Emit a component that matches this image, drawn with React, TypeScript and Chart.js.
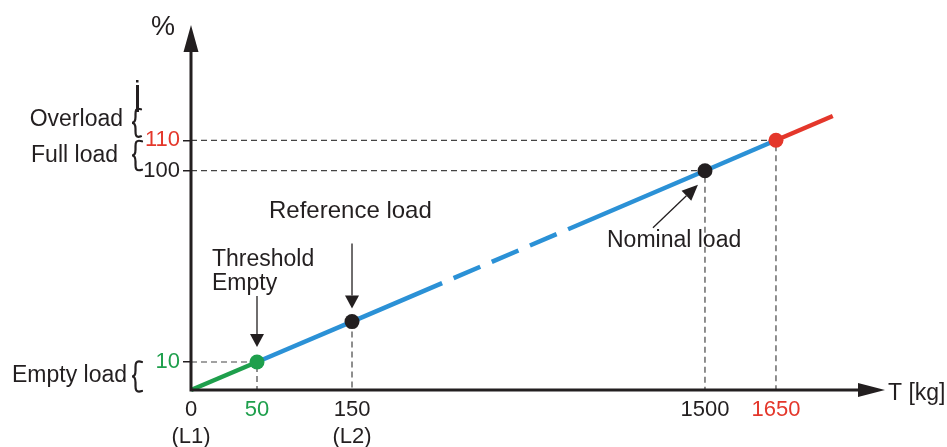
import { useEffect, useRef } from "react";
import { Chart, LinearScale, registerables } from "chart.js";

// load signal (%) against weight T [kg], schematic with a broken axis
const xTicks = [0, 50, 150, 1500, 1650];
const xSubLabels = ["(L1)", "", "(L2)", "", ""];
const yTicks = [10, 100, 110];

const emptyT = [0, 50];
const emptyPct = [0, 10];
const workT = [50, 150, 1500, 1650];
const workPct = [10, 29, 100, 110];
const overT = [1650, 1770];
const overPct = [110, 118];

const markerT = [50, 150, 1500, 1650];
const markerPct = [10, 29, 100, 110];

const GREEN = "#1e9f4c";
const BLUE = "#2b91d6";
const RED = "#e4372b";
const INK = "#231f20";
const GUIDE = "#444";
const FONT = '"Liberation Sans", Arial, sans-serif';

// where each value sits along the axis (0..1 of the plot area); the axis is not to scale
const X_BREAKS: [number, number][] = [[0, 0], [50, 0.0951], [150, 0.232], [1500, 0.7406], [1650, 0.8429]];
const Y_BREAKS: [number, number][] = [[0, 0], [10, 0.0767], [100, 0.6008], [110, 0.6841]];

function toDecimal(v: number, br: [number, number][]) {
  let i = 0;
  while (i < br.length - 2 && v > br[i + 1][0]) i++;
  const [v0, d0] = br[i];
  const [v1, d1] = br[i + 1];
  return d0 + ((v - v0) / (v1 - v0)) * (d1 - d0);
}

function fromDecimal(d: number, br: [number, number][]) {
  let i = 0;
  while (i < br.length - 2 && d > br[i + 1][1]) i++;
  const [v0, d0] = br[i];
  const [v1, d1] = br[i + 1];
  return v0 + ((d - d0) / (d1 - d0)) * (v1 - v0);
}

class BrokenScale extends LinearScale {
  static id = "broken";
  static defaults = LinearScale.defaults;
  getPixelForValue(value: number) {
    if (value === null || value === undefined) return NaN;
    return this.getPixelForDecimal(toDecimal(value, (this.options as any).breaks));
  }
  getValueForPixel(pixel: number) {
    return fromDecimal(this.getDecimalForPixel(pixel), (this.options as any).breaks);
  }
}

Chart.register(...registerables, BrokenScale);
Chart.defaults.font.family = FONT;

const tColor = (t: number) => (t === emptyT[emptyT.length - 1] ? GREEN : t === overT[0] ? RED : INK);
const pColor = (p: number) => (p === emptyPct[emptyPct.length - 1] ? GREEN : p === overPct[0] ? RED : INK);

const zip = (xs: number[], ys: number[]) => xs.map((x, i) => ({ x, y: ys[i] }));

function arrow(ctx: CanvasRenderingContext2D, x0: number, y0: number, x1: number, y1: number, len: number, w: number) {
  const a = Math.atan2(y1 - y0, x1 - x0);
  const bx = x1 - len * Math.cos(a);
  const by = y1 - len * Math.sin(a);
  ctx.lineWidth = 1.3;
  ctx.beginPath();
  ctx.moveTo(x0, y0);
  ctx.lineTo(bx, by);
  ctx.stroke();
  const nx = -Math.sin(a) * (w / 2);
  const ny = Math.cos(a) * (w / 2);
  ctx.beginPath();
  ctx.moveTo(x1, y1);
  ctx.lineTo(bx + nx, by + ny);
  ctx.lineTo(bx - nx, by - ny);
  ctx.closePath();
  ctx.fill();
}

function brace(ctx: CanvasRenderingContext2D, xTip: number, xEnd: number, top: number, bottom: number) {
  const mid = xTip + 3.5;
  const yc = (top + bottom) / 2;
  const r = Math.min(6, (bottom - top) / 4.5);
  ctx.lineWidth = 2.2;
  ctx.lineCap = "round";
  ctx.beginPath();
  ctx.moveTo(xEnd, top + 1);
  ctx.bezierCurveTo(mid, top - 1, mid, top + r * 0.5, mid, top + r);
  ctx.lineTo(mid, yc - r);
  ctx.quadraticCurveTo(mid, yc, xTip, yc);
  ctx.quadraticCurveTo(mid, yc, mid, yc + r);
  ctx.lineTo(mid, bottom - r);
  ctx.bezierCurveTo(mid, bottom - r * 0.5, mid, bottom + 1, xEnd, bottom - 1);
  ctx.stroke();
}

const annotate = {
  id: "annotate",
  afterDatasetsDraw(chart: any) {
    const { ctx, chartArea: a, scales } = chart;
    const px = (t: number) => scales.x.getPixelForValue(t);
    const py = (p: number) => scales.y.getPixelForValue(p);
    ctx.save();
    ctx.strokeStyle = INK;
    ctx.fillStyle = INK;

    // axes with arrow heads
    ctx.lineWidth = 3;
    ctx.beginPath();
    ctx.moveTo(a.left, a.bottom + 1.5);
    ctx.lineTo(a.left, a.top + 26);
    ctx.moveTo(a.left - 1.5, a.bottom);
    ctx.lineTo(a.right - 26, a.bottom);
    ctx.stroke();
    ctx.beginPath();
    ctx.moveTo(a.left, a.top);
    ctx.lineTo(a.left + 7.5, a.top + 27);
    ctx.lineTo(a.left - 7.5, a.top + 27);
    ctx.closePath();
    ctx.moveTo(a.right, a.bottom);
    ctx.lineTo(a.right - 27, a.bottom + 7);
    ctx.lineTo(a.right - 27, a.bottom - 7);
    ctx.closePath();
    ctx.fill();

    ctx.textBaseline = "alphabetic";
    ctx.textAlign = "left";
    ctx.font = `27px ${FONT}`;
    ctx.fillText("%", 151, 35);
    ctx.font = `23px ${FONT}`;
    ctx.fillText("T [kg]", a.right + 3, 400);

    // annotations
    ctx.font = `24px ${FONT}`;
    ctx.fillText("Reference load", 269, 218);
    ctx.font = `23px ${FONT}`;
    ctx.fillText("Threshold", 212, 266);
    ctx.fillText("Empty", 212, 290);
    ctx.fillText("Nominal load", 607, 247);

    const [t0, t1, t2] = markerT;
    const [p0, p1, p2] = markerPct;
    arrow(ctx, px(t0), py(p0) - 66, px(t0), py(p0) - 15, 13, 14);
    arrow(ctx, px(t1), py(p1) - 78, px(t1), py(p1) - 13, 13, 14);
    arrow(ctx, px(t2) - 52, py(p2) + 57, px(t2) - 7, py(p2) + 14, 16, 14);

    // zone labels with braces
    ctx.textAlign = "right";
    ctx.fillText("Overload", 123, 126);
    ctx.fillText("Full load", 118, 162);
    ctx.fillText("Empty load", 127, 382);
    const y110 = py(yTicks[2]);
    const y100 = py(yTicks[1]);
    const y10 = py(yTicks[0]);
    const y0 = py(0);
    brace(ctx, 132, 141, y110 - 32, y110 - 3);
    brace(ctx, 132, 142, y110, y100);
    brace(ctx, 132, 142, y10 - 1, y0 + 2);
    ctx.fillRect(136, 80, 2.5, 2.5);
    ctx.fillRect(136, 85, 3, 27);

    ctx.restore();
  },
};

export default function App() {
  const canvasRef = useRef<HTMLCanvasElement | null>(null);
  const instance = useRef<Chart | null>(null);

  useEffect(() => {
    if (!canvasRef.current) return;
    if (instance.current) instance.current.destroy();

    const guides = markerT.map((t, i) => {
      const p = markerPct[i];
      const pts = yTicks.includes(p) ? [{ x: 0, y: p }, { x: t, y: p }, { x: t, y: 0 }] : [{ x: t, y: p }, { x: t, y: 0 }];
      return {
        data: pts,
        borderColor: GUIDE,
        borderWidth: 1.2,
        borderDash: [6, 4],
        pointRadius: 0,
        order: 3,
        clip: false as const,
      };
    });

    instance.current = new Chart(canvasRef.current, {
      type: "line",
      data: {
        datasets: [
          {
            data: zip(markerT, markerPct),
            showLine: false,
            pointRadius: 7.5,
            pointBorderWidth: 0,
            pointBackgroundColor: (c: any) => tColor(markerT[c.dataIndex]),
            order: 0,
            clip: false,
          },
          { data: zip(emptyT, emptyPct), borderColor: GREEN, borderWidth: 4.5, pointRadius: 0, order: 1, clip: false },
          {
            data: zip(workT, workPct),
            borderColor: BLUE,
            borderWidth: 4.5,
            borderCapStyle: "butt",
            pointRadius: 0,
            order: 1,
            clip: false,
            segment: {
              borderDash: (c: any) => (c.p0DataIndex === 1 ? [98, 12.5, 29, 12.5, 29, 12.5, 29, 12.5, 1000] : undefined),
            },
          },
          { data: zip(overT, overPct), borderColor: RED, borderWidth: 4.5, pointRadius: 0, order: 1, clip: false },
          ...guides,
        ] as any,
      },
      options: {
        animation: false,
        responsive: true,
        maintainAspectRatio: false,
        events: [],
        layout: { padding: { top: 25, right: 62, left: 0, bottom: 0 } },
        plugins: { legend: { display: false }, tooltip: { enabled: false } },
        scales: {
          x: {
            type: "broken",
            breaks: X_BREAKS,
            min: 0,
            max: 1880,
            afterBuildTicks: (s: any) => {
              s.ticks = xTicks.map((v) => ({ value: v }));
            },
            afterFit: (s: any) => {
              s.height = 57;
            },
            grid: { display: false, drawTicks: false },
            border: { display: false },
            ticks: {
              autoSkip: false,
              maxRotation: 0,
              padding: 7,
              font: { size: 22, lineHeight: 1.2 },
              color: (c: any) => tColor(c.tick.value),
              callback: (v: any, i: number) => (xSubLabels[i] ? [String(xTicks[i]), xSubLabels[i]] : String(xTicks[i])),
            },
          },
          y: {
            type: "broken",
            breaks: Y_BREAKS,
            min: 0,
            max: 148,
            afterBuildTicks: (s: any) => {
              s.ticks = yTicks.map((v) => ({ value: v }));
            },
            afterFit: (s: any) => {
              s.width = 191;
            },
            grid: { drawOnChartArea: false, drawTicks: true, tickLength: 8, color: INK, lineWidth: 1.5 },
            border: { display: false },
            ticks: {
              autoSkip: false,
              padding: 3,
              font: { size: 22 },
              color: (c: any) => pColor(c.tick.value),
              callback: (v: any) => String(v),
            },
          },
        } as any,
      },
      plugins: [annotate],
    });
    return () => instance.current?.destroy();
  }, []);

  return (
    <div style={{ position: "fixed", left: 0, top: 0, width: 947, height: 447, background: "#fff" }}>
      <canvas ref={canvasRef} />
    </div>
  );
}
